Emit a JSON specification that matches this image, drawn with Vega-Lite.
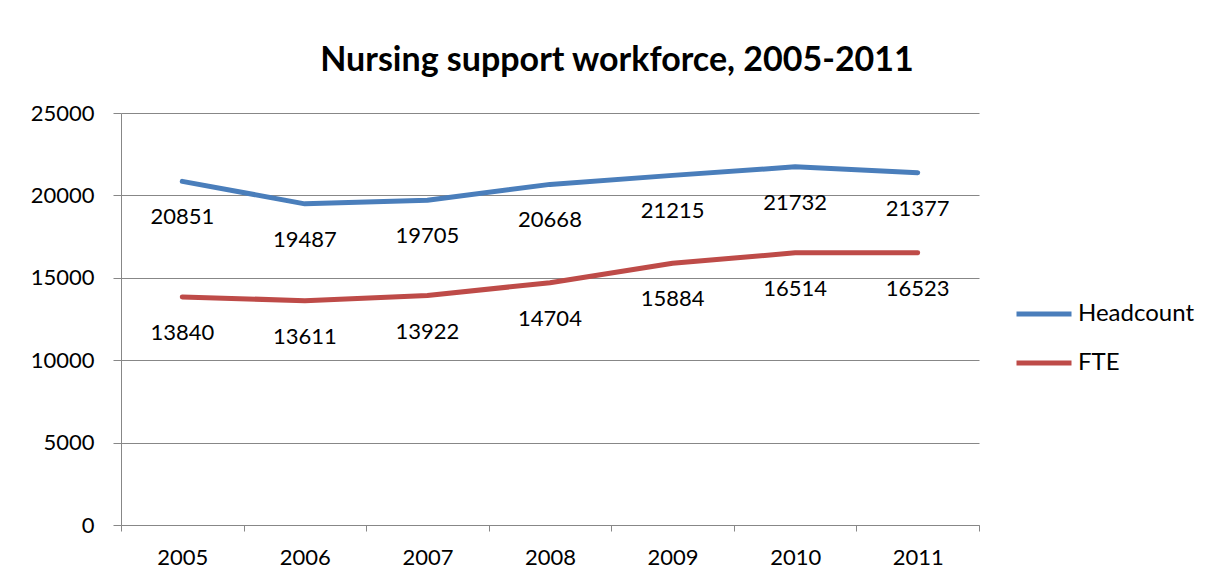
{
  "$schema": "https://vega.github.io/schema/vega-lite/v6.json",
  "autosize": {"type": "none"},
  "width": 858,
  "height": 412,
  "padding": {"left": 121, "top": 113, "right": 248, "bottom": 58},
  "background": "white",
  "config": {
    "view": {"stroke": null},
    "font": "Lato"
  },
  "title": {
    "text": "Nursing support workforce, 2005-2011",
    "fontSize": 34,
    "fontWeight": "bold",
    "font": "Lato",
    "color": "black",
    "anchor": "middle",
    "dx": 67,
    "offset": 24
  },
  "data": {
    "values": [
      {"year": "2005", "series": "Headcount", "value": 20851},
      {"year": "2006", "series": "Headcount", "value": 19487},
      {"year": "2007", "series": "Headcount", "value": 19705},
      {"year": "2008", "series": "Headcount", "value": 20668},
      {"year": "2009", "series": "Headcount", "value": 21215},
      {"year": "2010", "series": "Headcount", "value": 21732},
      {"year": "2011", "series": "Headcount", "value": 21377},
      {"year": "2005", "series": "FTE", "value": 13840},
      {"year": "2006", "series": "FTE", "value": 13611},
      {"year": "2007", "series": "FTE", "value": 13922},
      {"year": "2008", "series": "FTE", "value": 14704},
      {"year": "2009", "series": "FTE", "value": 15884},
      {"year": "2010", "series": "FTE", "value": 16514},
      {"year": "2011", "series": "FTE", "value": 16523}
    ]
  },
  "encoding": {
    "x": {
      "field": "year",
      "type": "ordinal",
      "scale": {"type": "band", "paddingInner": 0, "paddingOuter": 0},
      "axis": {
        "title": null,
        "labelAngle": 0,
        "labelFontSize": 22,
        "labelColor": "black",
        "labelPadding": 16,
        "tickBand": "extent",
        "tickSize": 6,
        "tickColor": "#878787",
        "domainColor": "#878787",
        "grid": false
      }
    },
    "y": {
      "field": "value",
      "type": "quantitative",
      "scale": {"domain": [0, 25000], "nice": false},
      "axis": {
        "title": null,
        "values": [0, 5000, 10000, 15000, 20000, 25000],
        "format": "d",
        "labelFontSize": 22,
        "labelColor": "black",
        "labelPadding": 19,
        "tickSize": 8,
        "tickColor": "#878787",
        "domainColor": "#878787",
        "gridColor": "#878787",
        "gridOpacity": 1
      }
    }
  },
  "layer": [
    {
      "mark": {"type": "line", "strokeWidth": 5, "strokeCap": "round", "strokeJoin": "round"},
      "encoding": {
        "color": {
          "field": "series",
          "type": "nominal",
          "scale": {"domain": ["Headcount", "FTE"], "range": ["#4A7EBB", "#BE4B48"]},
          "legend": {
            "title": null,
            "orient": "none",
            "legendX": 893,
            "legendY": 171,
            "symbolType": "stroke",
            "symbolSize": 3025,
            "symbolStrokeWidth": 5,
            "labelFontSize": 24,
            "labelColor": "black",
            "labelOffset": 4,
            "rowPadding": 7
          }
        }
      }
    },
    {
      "mark": {"type": "text", "dy": 36, "fontSize": 22, "color": "black"},
      "encoding": {
        "text": {"field": "value", "type": "quantitative", "format": "d"}
      }
    }
  ]
}
